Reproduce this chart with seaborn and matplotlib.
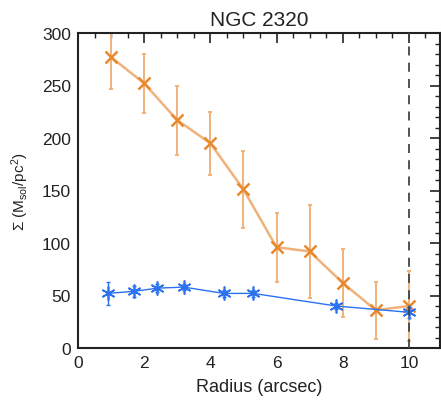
import matplotlib
matplotlib.use("Agg")
import matplotlib.pyplot as plt
import seaborn as sns
import pandas as pd
from matplotlib.ticker import MultipleLocator

# Data
orange_r = [1, 2, 3, 4, 5, 6, 7, 8, 9, 10]
orange_sigma = [277, 252, 217, 195, 151, 96, 92, 62, 36, 40]
orange_err = [30, 28, 33, 30, 37, 33, 44, 32, 27, 33]

blue_r = [0.9, 1.7, 2.4, 3.2, 4.4, 5.3, 7.8, 10.0]
blue_sigma = [52, 54, 57, 58, 52, 52, 40, 34]
blue_err = [11, 5, 4, 3, 3, 3, 3, 5]

vline_x = 10
title = "NGC 2320"
xlabel = "Radius (arcsec)"
ylabel = r"$\Sigma$ (M$_{\rm sol}$/pc$^2$)"

sns.set_style("white")
plt.rcParams['font.family'] = ['Liberation Sans', 'DejaVu Sans']
plt.rcParams['mathtext.fontset'] = 'custom'
plt.rcParams['mathtext.rm'] = 'Liberation Sans'
plt.rcParams['mathtext.it'] = 'Liberation Sans'

fig = plt.figure(figsize=(4.41, 4.02), dpi=100)
ax = fig.add_axes([78 / 441, 1 - 349 / 402, (440 - 78) / 441, (349 - 34) / 402])

orange = "#e8892e"
orange_light = "#f0b27a"
blue = "#2a72f0"

df_o = pd.DataFrame({"r": orange_r, "s": orange_sigma})
df_b = pd.DataFrame({"r": blue_r, "s": blue_sigma})

ax.errorbar(orange_r, orange_sigma, yerr=orange_err, fmt="none", ecolor=orange_light,
            elinewidth=1.4, capsize=1.5, capthick=1.4, zorder=2)
sns.lineplot(data=df_o, x="r", y="s", ax=ax, color=orange_light, linewidth=1.8,
             marker="x", markersize=9, markeredgewidth=1.8, markeredgecolor=orange,
             zorder=3, sort=False)

ax.errorbar(blue_r, blue_sigma, yerr=blue_err, fmt="none", ecolor=blue,
            elinewidth=1.0, capsize=1.5, capthick=1.0, zorder=4)
sns.lineplot(data=df_b, x="r", y="s", ax=ax, color=blue, linewidth=1.0,
             marker=(6, 2, 0), markersize=10, markeredgewidth=1.2, markeredgecolor=blue,
             zorder=5, sort=False)

ax.axvline(vline_x, color="#444444", linestyle=(0, (5, 4)), linewidth=1.3, zorder=6)

ax.set_xlim(0, 10.94)
ax.set_ylim(0, 300)
ax.xaxis.set_major_locator(MultipleLocator(2))
ax.xaxis.set_minor_locator(MultipleLocator(0.5))
ax.yaxis.set_major_locator(MultipleLocator(50))
ax.yaxis.set_minor_locator(MultipleLocator(10))
ax.tick_params(which="both", direction="in", top=True, right=True, color="#222222")
ax.tick_params(which="major", length=7, width=1.2, labelsize=12.5, pad=5, labelcolor="#222222")
ax.tick_params(which="minor", length=3.5, width=1.0)
for s in ax.spines.values():
    s.set_linewidth(1.5)
    s.set_color("#222222")

ax.set_title(title, fontsize=15, pad=6, color="#222222")
ax.set_xlabel(xlabel, fontsize=13, color="#222222", labelpad=6)
ax.set_ylabel(ylabel, fontsize=11, labelpad=8, color="#222222")

fig.savefig("out.png", dpi=100)
